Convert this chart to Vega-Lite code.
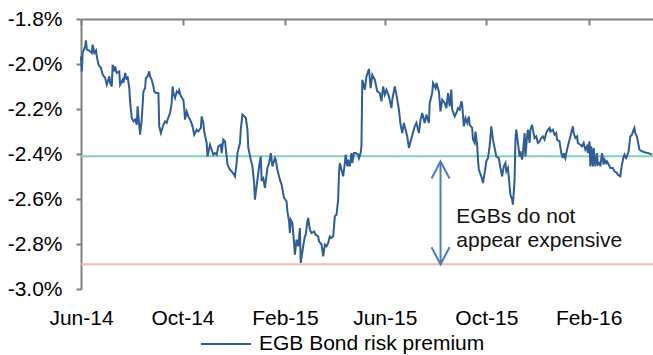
{
  "$schema": "https://vega.github.io/schema/vega-lite/v6.json",
  "width": 572,
  "height": 270,
  "autosize": "none",
  "padding": {"left": 81, "top": 19, "right": 0, "bottom": 66},
  "background": "white",
  "config": {"view": {"stroke": null}, "font": "Liberation Sans"},
  "datasets": {
    "premium": [
      {"date": "2014-06-01", "value": -1.966}, {"date": "2014-06-02", "value": -2.033}, {"date": "2014-06-03", "value": -1.951},
      {"date": "2014-06-06", "value": -1.922}, {"date": "2014-06-07", "value": -1.895}, {"date": "2014-06-08", "value": -1.936},
      {"date": "2014-06-11", "value": -1.940}, {"date": "2014-06-14", "value": -1.951}, {"date": "2014-06-15", "value": -1.914},
      {"date": "2014-06-17", "value": -1.951}, {"date": "2014-06-19", "value": -1.940}, {"date": "2014-06-20", "value": -1.966},
      {"date": "2014-06-22", "value": -2.003}, {"date": "2014-06-25", "value": -2.018}, {"date": "2014-06-27", "value": -2.047},
      {"date": "2014-06-30", "value": -2.062}, {"date": "2014-07-02", "value": -2.092}, {"date": "2014-07-05", "value": -2.055},
      {"date": "2014-07-06", "value": -2.084}, {"date": "2014-07-08", "value": -2.100}, {"date": "2014-07-09", "value": -2.003},
      {"date": "2014-07-11", "value": -2.033}, {"date": "2014-07-12", "value": -2.011}, {"date": "2014-07-14", "value": -2.040},
      {"date": "2014-07-17", "value": -2.033}, {"date": "2014-07-18", "value": -2.092}, {"date": "2014-07-21", "value": -2.070},
      {"date": "2014-07-22", "value": -2.084}, {"date": "2014-07-24", "value": -2.040}, {"date": "2014-07-26", "value": -2.070},
      {"date": "2014-07-27", "value": -2.055}, {"date": "2014-07-29", "value": -2.107}, {"date": "2014-07-30", "value": -2.166},
      {"date": "2014-08-01", "value": -2.240}, {"date": "2014-08-03", "value": -2.255}, {"date": "2014-08-05", "value": -2.247},
      {"date": "2014-08-07", "value": -2.270}, {"date": "2014-08-08", "value": -2.188}, {"date": "2014-08-11", "value": -2.314},
      {"date": "2014-08-13", "value": -2.247}, {"date": "2014-08-15", "value": -2.122}, {"date": "2014-08-17", "value": -2.107},
      {"date": "2014-08-18", "value": -2.062}, {"date": "2014-08-20", "value": -2.055}, {"date": "2014-08-22", "value": -2.033},
      {"date": "2014-08-23", "value": -2.055}, {"date": "2014-08-25", "value": -2.070}, {"date": "2014-08-27", "value": -2.100},
      {"date": "2014-08-28", "value": -2.122}, {"date": "2014-08-30", "value": -2.129}, {"date": "2014-09-02", "value": -2.129},
      {"date": "2014-09-03", "value": -2.277}, {"date": "2014-09-05", "value": -2.307}, {"date": "2014-09-08", "value": -2.270},
      {"date": "2014-09-10", "value": -2.255}, {"date": "2014-09-12", "value": -2.262}, {"date": "2014-09-13", "value": -2.247},
      {"date": "2014-09-16", "value": -2.218}, {"date": "2014-09-18", "value": -2.173}, {"date": "2014-09-19", "value": -2.100},
      {"date": "2014-09-20", "value": -2.129}, {"date": "2014-09-22", "value": -2.151}, {"date": "2014-09-24", "value": -2.122},
      {"date": "2014-09-26", "value": -2.129}, {"date": "2014-09-27", "value": -2.117}, {"date": "2014-09-29", "value": -2.144},
      {"date": "2014-10-02", "value": -2.159}, {"date": "2014-10-03", "value": -2.196}, {"date": "2014-10-04", "value": -2.247},
      {"date": "2014-10-06", "value": -2.211}, {"date": "2014-10-08", "value": -2.233}, {"date": "2014-10-11", "value": -2.255},
      {"date": "2014-10-13", "value": -2.277}, {"date": "2014-10-15", "value": -2.314}, {"date": "2014-10-18", "value": -2.292},
      {"date": "2014-10-20", "value": -2.300}, {"date": "2014-10-23", "value": -2.284}, {"date": "2014-10-24", "value": -2.233},
      {"date": "2014-10-26", "value": -2.262}, {"date": "2014-10-27", "value": -2.300}, {"date": "2014-10-30", "value": -2.351},
      {"date": "2014-10-31", "value": -2.411}, {"date": "2014-11-03", "value": -2.359}, {"date": "2014-11-05", "value": -2.381},
      {"date": "2014-11-07", "value": -2.403}, {"date": "2014-11-09", "value": -2.396}, {"date": "2014-11-11", "value": -2.403},
      {"date": "2014-11-13", "value": -2.366}, {"date": "2014-11-16", "value": -2.359}, {"date": "2014-11-17", "value": -2.396},
      {"date": "2014-11-19", "value": -2.336}, {"date": "2014-11-21", "value": -2.344}, {"date": "2014-11-23", "value": -2.411},
      {"date": "2014-11-24", "value": -2.447}, {"date": "2014-11-27", "value": -2.470}, {"date": "2014-11-29", "value": -2.477},
      {"date": "2014-12-02", "value": -2.492}, {"date": "2014-12-03", "value": -2.500}, {"date": "2014-12-05", "value": -2.440},
      {"date": "2014-12-06", "value": -2.396}, {"date": "2014-12-09", "value": -2.351}, {"date": "2014-12-10", "value": -2.292},
      {"date": "2014-12-12", "value": -2.225}, {"date": "2014-12-16", "value": -2.239}, {"date": "2014-12-18", "value": -2.292},
      {"date": "2014-12-19", "value": -2.372}, {"date": "2014-12-22", "value": -2.425}, {"date": "2014-12-24", "value": -2.455},
      {"date": "2014-12-26", "value": -2.529}, {"date": "2014-12-27", "value": -2.603}, {"date": "2014-12-30", "value": -2.514},
      {"date": "2015-01-01", "value": -2.455}, {"date": "2015-01-03", "value": -2.411}, {"date": "2015-01-04", "value": -2.514},
      {"date": "2015-01-06", "value": -2.507}, {"date": "2015-01-08", "value": -2.551}, {"date": "2015-01-11", "value": -2.462},
      {"date": "2015-01-13", "value": -2.440}, {"date": "2015-01-15", "value": -2.396}, {"date": "2015-01-17", "value": -2.455},
      {"date": "2015-01-20", "value": -2.418}, {"date": "2015-01-21", "value": -2.425}, {"date": "2015-01-23", "value": -2.470},
      {"date": "2015-01-26", "value": -2.514}, {"date": "2015-01-28", "value": -2.536}, {"date": "2015-01-31", "value": -2.595},
      {"date": "2015-02-03", "value": -2.611}, {"date": "2015-02-04", "value": -2.655}, {"date": "2015-02-06", "value": -2.699},
      {"date": "2015-02-07", "value": -2.751}, {"date": "2015-02-08", "value": -2.692}, {"date": "2015-02-10", "value": -2.707},
      {"date": "2015-02-12", "value": -2.796}, {"date": "2015-02-13", "value": -2.847}, {"date": "2015-02-15", "value": -2.781},
      {"date": "2015-02-17", "value": -2.810}, {"date": "2015-02-19", "value": -2.729}, {"date": "2015-02-20", "value": -2.884},
      {"date": "2015-02-23", "value": -2.810}, {"date": "2015-02-25", "value": -2.766}, {"date": "2015-02-26", "value": -2.759},
      {"date": "2015-02-28", "value": -2.699}, {"date": "2015-03-01", "value": -2.684}, {"date": "2015-03-03", "value": -2.736},
      {"date": "2015-03-05", "value": -2.751}, {"date": "2015-03-08", "value": -2.744}, {"date": "2015-03-10", "value": -2.759},
      {"date": "2015-03-13", "value": -2.766}, {"date": "2015-03-14", "value": -2.788}, {"date": "2015-03-17", "value": -2.803},
      {"date": "2015-03-19", "value": -2.855}, {"date": "2015-03-21", "value": -2.803}, {"date": "2015-03-23", "value": -2.810},
      {"date": "2015-03-25", "value": -2.795}, {"date": "2015-03-27", "value": -2.766}, {"date": "2015-03-29", "value": -2.773},
      {"date": "2015-03-31", "value": -2.766}, {"date": "2015-04-02", "value": -2.677}, {"date": "2015-04-04", "value": -2.670},
      {"date": "2015-04-06", "value": -2.603}, {"date": "2015-04-07", "value": -2.484}, {"date": "2015-04-08", "value": -2.440},
      {"date": "2015-04-10", "value": -2.470}, {"date": "2015-04-12", "value": -2.499}, {"date": "2015-04-14", "value": -2.440},
      {"date": "2015-04-15", "value": -2.403}, {"date": "2015-04-17", "value": -2.455}, {"date": "2015-04-18", "value": -2.425},
      {"date": "2015-04-20", "value": -2.455}, {"date": "2015-04-22", "value": -2.396}, {"date": "2015-04-23", "value": -2.440},
      {"date": "2015-04-25", "value": -2.396}, {"date": "2015-04-27", "value": -2.396}, {"date": "2015-04-30", "value": -2.403},
      {"date": "2015-05-01", "value": -2.418}, {"date": "2015-05-03", "value": -2.396}, {"date": "2015-05-04", "value": -2.366},
      {"date": "2015-05-05", "value": -2.070}, {"date": "2015-05-08", "value": -2.114}, {"date": "2015-05-10", "value": -2.055},
      {"date": "2015-05-13", "value": -2.022}, {"date": "2015-05-15", "value": -2.107}, {"date": "2015-05-17", "value": -2.048},
      {"date": "2015-05-20", "value": -2.070}, {"date": "2015-05-23", "value": -2.122}, {"date": "2015-05-26", "value": -2.129},
      {"date": "2015-05-28", "value": -2.166}, {"date": "2015-05-30", "value": -2.100}, {"date": "2015-06-01", "value": -2.136},
      {"date": "2015-06-03", "value": -2.114}, {"date": "2015-06-06", "value": -2.144}, {"date": "2015-06-09", "value": -2.196},
      {"date": "2015-06-10", "value": -2.159}, {"date": "2015-06-13", "value": -2.100}, {"date": "2015-06-15", "value": -2.136},
      {"date": "2015-06-18", "value": -2.203}, {"date": "2015-06-20", "value": -2.270}, {"date": "2015-06-22", "value": -2.307},
      {"date": "2015-06-24", "value": -2.262}, {"date": "2015-06-26", "value": -2.292}, {"date": "2015-06-28", "value": -2.322},
      {"date": "2015-06-30", "value": -2.373}, {"date": "2015-07-02", "value": -2.344}, {"date": "2015-07-07", "value": -2.277},
      {"date": "2015-07-09", "value": -2.262}, {"date": "2015-07-12", "value": -2.307}, {"date": "2015-07-14", "value": -2.247},
      {"date": "2015-07-16", "value": -2.218}, {"date": "2015-07-19", "value": -2.262}, {"date": "2015-07-21", "value": -2.225},
      {"date": "2015-07-24", "value": -2.262}, {"date": "2015-07-25", "value": -2.173}, {"date": "2015-07-28", "value": -2.129},
      {"date": "2015-07-29", "value": -2.084}, {"date": "2015-08-01", "value": -2.107}, {"date": "2015-08-02", "value": -2.084},
      {"date": "2015-08-05", "value": -2.122}, {"date": "2015-08-07", "value": -2.211}, {"date": "2015-08-09", "value": -2.159},
      {"date": "2015-08-12", "value": -2.173}, {"date": "2015-08-14", "value": -2.196}, {"date": "2015-08-16", "value": -2.129},
      {"date": "2015-08-18", "value": -2.188}, {"date": "2015-08-20", "value": -2.114}, {"date": "2015-08-21", "value": -2.203},
      {"date": "2015-08-24", "value": -2.233}, {"date": "2015-08-26", "value": -2.218}, {"date": "2015-08-28", "value": -2.196},
      {"date": "2015-08-30", "value": -2.203}, {"date": "2015-09-01", "value": -2.166}, {"date": "2015-09-02", "value": -2.181},
      {"date": "2015-09-04", "value": -2.277}, {"date": "2015-09-06", "value": -2.240}, {"date": "2015-09-08", "value": -2.262},
      {"date": "2015-09-10", "value": -2.233}, {"date": "2015-09-11", "value": -2.270}, {"date": "2015-09-14", "value": -2.284},
      {"date": "2015-09-15", "value": -2.336}, {"date": "2015-09-17", "value": -2.351}, {"date": "2015-09-18", "value": -2.300},
      {"date": "2015-09-20", "value": -2.359}, {"date": "2015-09-21", "value": -2.425}, {"date": "2015-09-22", "value": -2.470},
      {"date": "2015-09-25", "value": -2.499}, {"date": "2015-09-27", "value": -2.529}, {"date": "2015-09-29", "value": -2.484},
      {"date": "2015-10-01", "value": -2.433}, {"date": "2015-10-03", "value": -2.418}, {"date": "2015-10-05", "value": -2.366},
      {"date": "2015-10-07", "value": -2.277}, {"date": "2015-10-09", "value": -2.336}, {"date": "2015-10-11", "value": -2.373},
      {"date": "2015-10-13", "value": -2.411}, {"date": "2015-10-16", "value": -2.418}, {"date": "2015-10-18", "value": -2.462},
      {"date": "2015-10-20", "value": -2.499}, {"date": "2015-10-22", "value": -2.455}, {"date": "2015-10-24", "value": -2.440},
      {"date": "2015-10-25", "value": -2.477}, {"date": "2015-10-27", "value": -2.462}, {"date": "2015-10-29", "value": -2.544},
      {"date": "2015-10-30", "value": -2.581}, {"date": "2015-11-01", "value": -2.603}, {"date": "2015-11-02", "value": -2.625},
      {"date": "2015-11-04", "value": -2.514}, {"date": "2015-11-05", "value": -2.336}, {"date": "2015-11-06", "value": -2.292},
      {"date": "2015-11-08", "value": -2.351}, {"date": "2015-11-10", "value": -2.411}, {"date": "2015-11-11", "value": -2.388},
      {"date": "2015-11-13", "value": -2.425}, {"date": "2015-11-14", "value": -2.396}, {"date": "2015-11-16", "value": -2.307},
      {"date": "2015-11-17", "value": -2.411}, {"date": "2015-11-19", "value": -2.322}, {"date": "2015-11-20", "value": -2.292},
      {"date": "2015-11-22", "value": -2.351}, {"date": "2015-11-23", "value": -2.292}, {"date": "2015-11-25", "value": -2.270},
      {"date": "2015-11-26", "value": -2.292}, {"date": "2015-11-28", "value": -2.329}, {"date": "2015-11-30", "value": -2.322},
      {"date": "2015-12-02", "value": -2.351}, {"date": "2015-12-04", "value": -2.344}, {"date": "2015-12-06", "value": -2.329},
      {"date": "2015-12-08", "value": -2.322}, {"date": "2015-12-10", "value": -2.336}, {"date": "2015-12-12", "value": -2.307},
      {"date": "2015-12-14", "value": -2.292}, {"date": "2015-12-16", "value": -2.284}, {"date": "2015-12-17", "value": -2.300},
      {"date": "2015-12-20", "value": -2.292}, {"date": "2015-12-22", "value": -2.314}, {"date": "2015-12-24", "value": -2.307},
      {"date": "2015-12-25", "value": -2.336}, {"date": "2015-12-28", "value": -2.344}, {"date": "2015-12-30", "value": -2.396},
      {"date": "2016-01-01", "value": -2.418}, {"date": "2016-01-02", "value": -2.396}, {"date": "2016-01-04", "value": -2.418},
      {"date": "2016-01-06", "value": -2.381}, {"date": "2016-01-08", "value": -2.351}, {"date": "2016-01-10", "value": -2.322},
      {"date": "2016-01-13", "value": -2.277}, {"date": "2016-01-14", "value": -2.307}, {"date": "2016-01-16", "value": -2.329},
      {"date": "2016-01-18", "value": -2.322}, {"date": "2016-01-19", "value": -2.351}, {"date": "2016-01-22", "value": -2.359},
      {"date": "2016-01-24", "value": -2.366}, {"date": "2016-01-26", "value": -2.351}, {"date": "2016-01-28", "value": -2.381},
      {"date": "2016-01-30", "value": -2.366}, {"date": "2016-01-31", "value": -2.396}, {"date": "2016-02-02", "value": -2.344},
      {"date": "2016-02-03", "value": -2.455}, {"date": "2016-02-04", "value": -2.366}, {"date": "2016-02-06", "value": -2.455},
      {"date": "2016-02-07", "value": -2.373}, {"date": "2016-02-09", "value": -2.455}, {"date": "2016-02-11", "value": -2.396},
      {"date": "2016-02-12", "value": -2.447}, {"date": "2016-02-14", "value": -2.440}, {"date": "2016-02-15", "value": -2.455},
      {"date": "2016-02-17", "value": -2.396}, {"date": "2016-02-19", "value": -2.447}, {"date": "2016-02-20", "value": -2.425},
      {"date": "2016-02-22", "value": -2.440}, {"date": "2016-02-23", "value": -2.433}, {"date": "2016-02-25", "value": -2.447},
      {"date": "2016-02-27", "value": -2.462}, {"date": "2016-03-01", "value": -2.462}, {"date": "2016-03-03", "value": -2.477},
      {"date": "2016-03-06", "value": -2.484}, {"date": "2016-03-07", "value": -2.492}, {"date": "2016-03-10", "value": -2.499},
      {"date": "2016-03-11", "value": -2.470}, {"date": "2016-03-12", "value": -2.447}, {"date": "2016-03-14", "value": -2.411},
      {"date": "2016-03-15", "value": -2.403}, {"date": "2016-03-17", "value": -2.418}, {"date": "2016-03-18", "value": -2.411},
      {"date": "2016-03-20", "value": -2.388}, {"date": "2016-03-22", "value": -2.322}, {"date": "2016-03-24", "value": -2.314},
      {"date": "2016-03-26", "value": -2.292}, {"date": "2016-03-27", "value": -2.284}, {"date": "2016-03-28", "value": -2.307},
      {"date": "2016-03-30", "value": -2.322}, {"date": "2016-04-02", "value": -2.381}, {"date": "2016-04-05", "value": -2.388},
      {"date": "2016-04-09", "value": -2.393}, {"date": "2016-04-13", "value": -2.396}, {"date": "2016-04-17", "value": -2.403}
    ]
  },
  "resolve": {"axis": {"x": "independent"}},
  "layer": [
    {
      "data": {"values": [{}]},
      "mark": {"type": "rule", "color": "#80d2ba", "strokeWidth": 2},
      "encoding": {
        "y": {"datum": -2.41, "type": "quantitative"}
      }
    },
    {
      "data": {"values": [{}]},
      "mark": {"type": "rule", "color": "#ffb1b1", "strokeWidth": 2},
      "encoding": {
        "y": {"datum": -2.89, "type": "quantitative"}
      }
    },
    {
      "data": {"name": "premium"},
      "mark": {"type": "line", "strokeWidth": 2},
      "encoding": {
        "x": {
          "field": "date", "type": "temporal",
          "scale": {"type": "utc", "domain": [{"year": 2014, "month": 6, "date": 1, "utc": true}, {"year": 2016, "month": 4, "date": 18, "hours": 7, "utc": true}]},
          "axis": {
            "orient": "top", "title": null, "labels": false, "grid": false,
            "domainColor": "#808080", "domainWidth": 2,
            "tickColor": "#808080", "tickWidth": 2, "tickSize": -6,
            "values": [
              {"year": 2014, "month": 6, "date": 1, "utc": true},
              {"year": 2014, "month": 10, "date": 1, "utc": true},
              {"year": 2015, "month": 2, "date": 1, "utc": true},
              {"year": 2015, "month": 6, "date": 1, "utc": true},
              {"year": 2015, "month": 10, "date": 1, "utc": true},
              {"year": 2016, "month": 2, "date": 1, "utc": true}
            ]
          }
        },
        "y": {
          "field": "value", "type": "quantitative",
          "scale": {"domain": [-3.0, -1.8], "nice": false, "zero": false},
          "axis": {
            "title": null, "grid": false,
            "values": [-3.0, -2.8, -2.6, -2.4, -2.2, -2.0, -1.8],
            "labelExpr": "(datum.value < 0 ? '-' : '') + format(abs(datum.value), '.1f') + '%'",
            "domainColor": "#808080", "domainWidth": 2,
            "tickColor": "#808080", "tickWidth": 2, "tickSize": 5,
            "labelPadding": 14, "labelFontSize": 21, "labelFont": "Liberation Sans", "labelColor": "#000000"
          }
        },
        "color": {
          "datum": "EGB Bond risk premium",
          "scale": {"range": ["#2f5d96"]},
          "legend": {
            "orient": "none", "legendX": 119, "legendY": 299, "title": null, "padding": 0,
            "symbolType": "stroke", "symbolSize": 2500, "symbolStrokeWidth": 2,
            "labelFontSize": 21, "labelFont": "Liberation Sans", "labelColor": "#000000",
            "labelOffset": 7, "labelLimit": 400
          }
        }
      }
    },
    {
      "data": {"values": [{}]},
      "mark": {"type": "rule", "color": "#4a7ebb", "strokeWidth": 2},
      "encoding": {
        "x": {
          "datum": {"year": 2015, "month": 8, "date": 7, "utc": true}, "type": "temporal",
          "axis": {
            "orient": "bottom", "title": null, "grid": false, "domain": false, "ticks": false, "tickSize": 0,
            "format": "%b-%y", "labelPadding": 35, "labelBaseline": "alphabetic",
            "labelFontSize": 21, "labelFont": "Liberation Sans", "labelColor": "#000000",
            "labelFlush": false, "labelOverlap": false,
            "values": [
              {"year": 2014, "month": 6, "date": 1, "utc": true},
              {"year": 2014, "month": 10, "date": 1, "utc": true},
              {"year": 2015, "month": 2, "date": 1, "utc": true},
              {"year": 2015, "month": 6, "date": 1, "utc": true},
              {"year": 2015, "month": 10, "date": 1, "utc": true},
              {"year": 2016, "month": 2, "date": 1, "utc": true}
            ]
          }
        },
        "y": {"datum": -2.433, "type": "quantitative"},
        "y2": {"datum": -2.89}
      }
    },
    {
      "data": {"values": [{}]},
      "mark": {"type": "point", "shape": "M-0.53,1L0,0L0.53,1", "size": 1156, "filled": false, "color": "#4a7ebb", "strokeWidth": 2, "opacity": 1},
      "encoding": {
        "x": {"datum": {"year": 2015, "month": 8, "date": 7, "utc": true}, "type": "temporal", "axis": null},
        "y": {"datum": -2.433, "type": "quantitative"}
      }
    },
    {
      "data": {"values": [{}]},
      "mark": {"type": "point", "shape": "M-0.53,-1L0,0L0.53,-1", "size": 1156, "filled": false, "color": "#4a7ebb", "strokeWidth": 2, "opacity": 1},
      "encoding": {
        "x": {"datum": {"year": 2015, "month": 8, "date": 7, "utc": true}, "type": "temporal", "axis": null},
        "y": {"datum": -2.89, "type": "quantitative"}
      }
    },
    {
      "data": {"values": [{}]},
      "mark": {"type": "text", "align": "left", "baseline": "alphabetic", "fontSize": 21, "font": "Liberation Sans", "lineHeight": 24, "color": "#111111"},
      "encoding": {
        "x": {"datum": {"year": 2015, "month": 8, "date": 26, "utc": true}, "type": "temporal", "axis": null},
        "y": {"datum": -2.707, "type": "quantitative"},
        "text": {"value": ["EGBs do not", "appear expensive"]}
      }
    }
  ]
}
